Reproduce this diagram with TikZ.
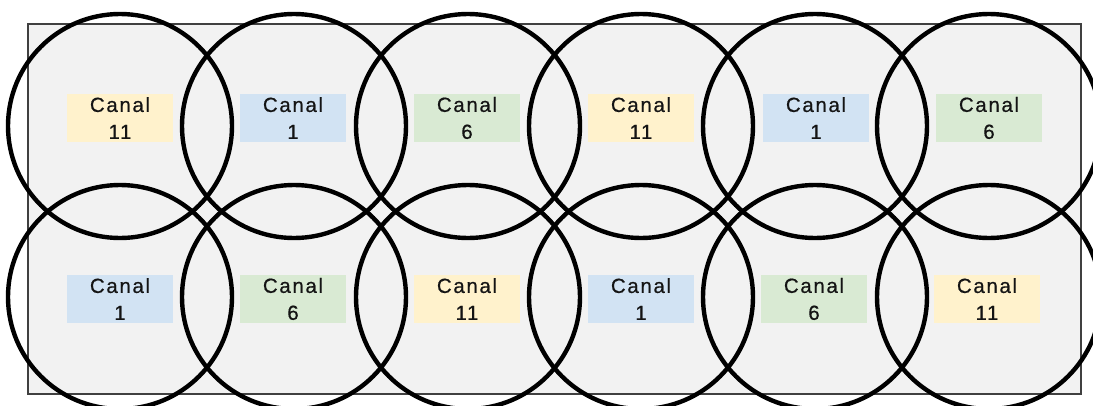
\documentclass[tikz,border=0pt]{standalone}
\usepackage{fontspec}
\setmainfont{Liberation Sans}[LetterSpace=8,FakeBold=0.5]
\definecolor{zonebg}{HTML}{F2F2F2}
\definecolor{zoneline}{HTML}{404040}
\definecolor{chyellow}{HTML}{FFF2CC}
\definecolor{chblue}{HTML}{D2E3F3}
\definecolor{chgreen}{HTML}{D9EAD3}
\definecolor{chtext}{HTML}{141414}
\tikzset{
  cell/.style={circle,draw=black,line width=4.4pt,minimum size=224pt,inner sep=0pt},
  chan/.style={rectangle,minimum width=106pt,minimum height=48pt,inner sep=0pt,
    align=center,text=chtext,font=\fontsize{20.5}{27}\selectfont},
  ch11/.style={chan,fill=chyellow},
  ch1/.style={chan,fill=chblue},
  ch6/.style={chan,fill=chgreen}
}
\begin{document}
\begin{tikzpicture}[x=1pt,y=-1pt]
            \useasboundingbox (0,0) rectangle (1093,405);
            \node[draw=zoneline,fill=zonebg,line width=1.6pt,minimum width=1053pt,minimum height=370pt,inner sep=0pt] (zone) at (554.5,209) {};

            \node[ch11] (lt1) at (120,118) {Canal\\11};
            \node[ch1] (lt2) at (293,118) {Canal\\1};
            \node[ch6] (lt3) at (467,118) {Canal\\6};
            \node[ch11] (lt4) at (641,118) {Canal\\11};
            \node[ch1] (lt5) at (816,118) {Canal\\1};
            \node[ch6] (lt6) at (989,118) {Canal\\6};

            \node[ch1] (lb1) at (120,299) {Canal\\1};
            \node[ch6] (lb2) at (293,299) {Canal\\6};
            \node[ch11] (lb3) at (467,299) {Canal\\11};
            \node[ch1] (lb4) at (641,299) {Canal\\1};
            \node[ch6] (lb5) at (814,299) {Canal\\6};
            \node[ch11] (lb6) at (987,299) {Canal\\11};

            \node[cell] (ct1) at (120,126) {};
            \node[cell] (ct2) at (294,126) {};
            \node[cell] (ct3) at (468,126) {};
            \node[cell] (ct4) at (641,126) {};
            \node[cell] (ct5) at (815,126) {};
            \node[cell] (ct6) at (989,126) {};

            \node[cell] (cb1) at (120,297) {};
            \node[cell] (cb2) at (294,297) {};
            \node[cell] (cb3) at (468,297) {};
            \node[cell] (cb4) at (641,297) {};
            \node[cell] (cb5) at (815,297) {};
            \node[cell] (cb6) at (989,297) {};
        \end{tikzpicture}
\end{document}
